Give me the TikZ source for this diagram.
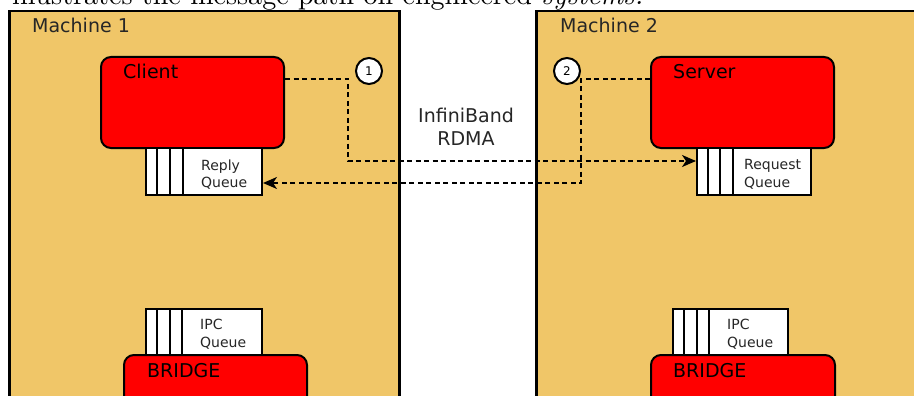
\documentclass[tikz,border=0pt]{standalone}
\usepackage{fontspec}
\usepackage{graphicx}
\newfontfamily\dv{DejaVu Sans}
\usetikzlibrary{arrows.meta}
\definecolor{machinefill}{RGB}{240,198,104}
\begin{document}
\begin{tikzpicture}[x=1pt,y=-1pt,
  machine/.style={draw=black, line width=2.5pt, fill=machinefill, anchor=north west, inner sep=0},
  proc/.style={draw=black, line width=2pt, fill=red, rounded corners=10pt, anchor=north west, inner sep=0},
  queue/.style={draw=black, line width=2pt, fill=white, anchor=north west, inner sep=0},
  stripe/.style={draw=black, line width=2pt},
  lbl/.style={font=\dv\fontsize{19}{23}\selectfont, inner sep=0, anchor=base west},
  qlbl/.style={font=\dv\fontsize{14}{17}\selectfont, text=black!85, inner sep=0, anchor=base west},
  midlbl/.style={font=\dv\fontsize{19}{23}\selectfont, text=black!85, inner sep=0, anchor=base},
  badge/.style={circle, draw=black, line width=2pt, fill=white, minimum size=26pt, inner sep=0, font=\dv\fontsize{12}{14}\selectfont},
  flow/.style={line width=2pt, dash pattern=on 5pt off 3.5pt, -{Stealth[length=14pt,width=12pt,inset=4pt]}}
]
\useasboundingbox (0,0) rectangle (914,396);
\clip (0,0) rectangle (914,396);

% caption fragment
\node[anchor=base west, inner sep=0] (caption) at (12,4.5) {\resizebox{631pt}{!}{illustrates the message path on engineered \textit{systems.}}};

% machines
\node[machine, minimum width=390pt, minimum height=400pt] (m1) at (8,10) {};
\node[machine, minimum width=400pt, minimum height=400pt] (m2) at (535,10) {};
\node[lbl, text=black!85] (m1lbl) at (32,33) {Machine 1};
\node[lbl, text=black!85] (m2lbl) at (560,33) {Machine 2};

% client / server
\node[proc, minimum width=183pt, minimum height=91pt] (client) at (100,56) {};
\node[proc, minimum width=183pt, minimum height=91pt] (server) at (650,56) {};
\node[lbl] (clientlbl) at (123,79) {Client};
\node[lbl] (serverlbl) at (673,79) {Server};

% reply queue
\node[queue, minimum width=116pt, minimum height=47pt] (replyq) at (145,147) {};
\foreach \s in {12,25,38}
  \draw[stripe] ([xshift=\s pt]replyq.north west) -- ([xshift=\s pt]replyq.south west);
\node[qlbl] (replyl1) at (201,170) {Reply};
\node[qlbl] (replyl2) at (201,187) {Queue};

% request queue
\node[queue, minimum width=114pt, minimum height=47pt] (reqq) at (696,147) {};
\foreach \s in {12,24,37}
  \draw[stripe] ([xshift=\s pt]reqq.north west) -- ([xshift=\s pt]reqq.south west);
\node[qlbl] (reql1) at (744,169) {Request};
\node[qlbl] (reql2) at (744,187) {Queue};

% IPC queues
\node[queue, minimum width=116pt, minimum height=46pt] (ipc1) at (145,308) {};
\foreach \s in {12,25,37}
  \draw[stripe] ([xshift=\s pt]ipc1.north west) -- ([xshift=\s pt]ipc1.south west);
\node[qlbl] (ipc1l1) at (200,329) {IPC};
\node[qlbl] (ipc1l2) at (200,347) {Queue};

\node[queue, minimum width=115pt, minimum height=46pt] (ipc2) at (672,308) {};
\foreach \s in {12,25,37}
  \draw[stripe] ([xshift=\s pt]ipc2.north west) -- ([xshift=\s pt]ipc2.south west);
\node[qlbl] (ipc2l1) at (727,329) {IPC};
\node[qlbl] (ipc2l2) at (727,347) {Queue};

% bridges
\node[proc, minimum width=183pt, minimum height=70pt] (bridge1) at (123,354) {};
\node[proc, minimum width=184pt, minimum height=70pt] (bridge2) at (650,354) {};
\node[lbl] (bridge1lbl) at (147,377) {BRIDGE};
\node[lbl] (bridge2lbl) at (673,377) {BRIDGE};

% middle label
\node[midlbl] (ib1) at (466,122) {InfiniBand};
\node[midlbl] (ib2) at (466,146) {RDMA};

% badges
\node[badge] (b1) at (369,71) {1};
\node[badge] (b2) at (567,71) {2};

% connectors
\coordinate (j1) at (348,79);
\coordinate (j1b) at (348,161);
\coordinate (j2) at (581,79);
\coordinate (j2b) at (581,183);
\draw[flow] (client.north east |- j1) -- (j1) -- (j1b) -- (reqq.west |- j1b);
\draw[flow] (server.north west |- j2) -- (j2) -- (j2b) -- (replyq.east |- j2b);
\end{tikzpicture}
\end{document}
